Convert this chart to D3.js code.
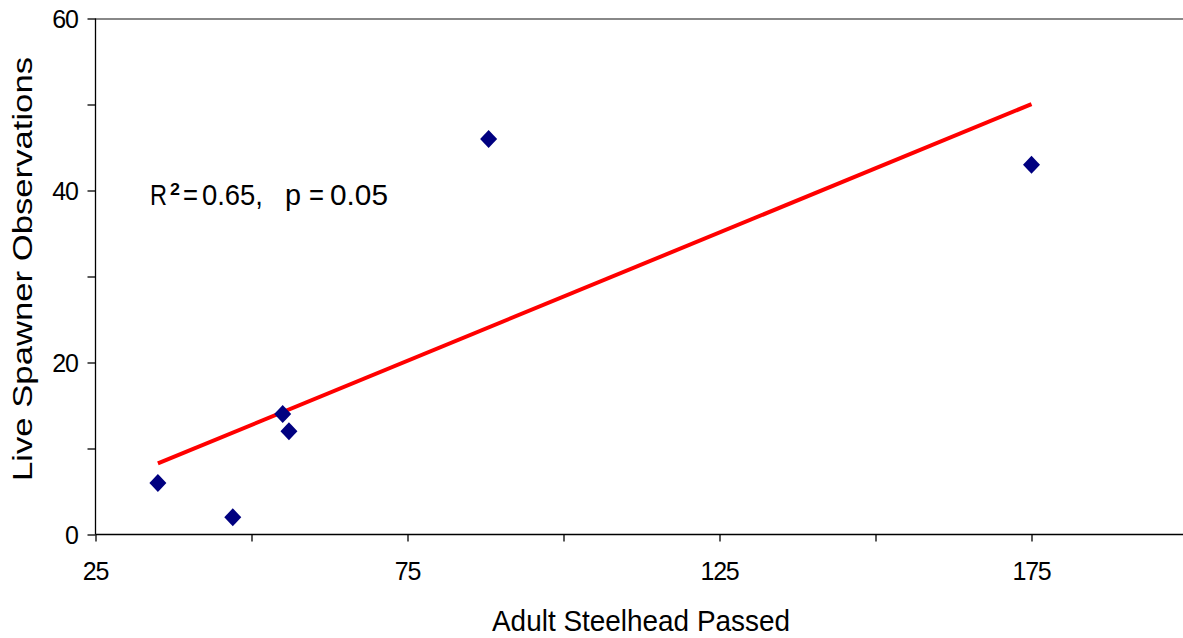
<!DOCTYPE html>
<html>
<head>
<meta charset="utf-8">
<script src="https://cdn.jsdelivr.net/npm/d3@7"></script>
<style>
body { margin: 0; background: #fff; }
text { font-family: "Liberation Sans", Arial, sans-serif; fill: #000; }
</style>
</head>
<body>
<script>
const adultsPassed = [35, 47, 55, 56, 88, 175];
const liveSpawners = [6, 2, 14, 12, 46, 43];
const xMajorTicks = [25, 75, 125, 175];
const yMajorTicks = [0, 20, 40, 60];

const W = 1183, H = 638;
const svg = d3.select("body").append("svg").attr("width", W).attr("height", H);

const x = d3.scaleLinear().domain([25, 200]).range([95.5, 1187.5]);
const y = d3.scaleLinear().domain([0, 60]).range([534.5, 18.5]);

// top border
svg.append("line").attr("x1", 95).attr("x2", W).attr("y1", 19).attr("y2", 19)
  .attr("stroke", "#888").attr("stroke-width", 2);

// y axis with minor ticks
const yAxis = svg.append("g").attr("transform", "translate(95.5,0)")
  .call(d3.axisLeft(y).tickValues(d3.range(0, 61, 10)).tickSize(8).tickFormat(""));
yAxis.selectAll("line, path").attr("stroke", "#000").attr("stroke-width", 1.3);
yAxis.select("path").attr("d", `M0,${y(60)}V${y(0)}`);
svg.selectAll(".ylab").data(yMajorTicks).enter().append("text")
  .attr("x", 78).attr("y", d => y(d) + 9).attr("text-anchor", "end")
  .attr("font-size", 25).attr("letter-spacing", -1).text(d => d);

// x axis with minor ticks
const xAxis = svg.append("g").attr("transform", "translate(0,534.5)")
  .call(d3.axisBottom(x).tickValues(d3.range(25, 176, 25)).tickSize(7).tickFormat(""));
xAxis.selectAll("line, path").attr("stroke", "#000").attr("stroke-width", 1.3);
xAxis.select("path").attr("d", `M${x(25)},0H${W}`);
svg.selectAll(".xlab").data(xMajorTicks).enter().append("text")
  .attr("x", d => x(d)).attr("y", 580).attr("text-anchor", "middle")
  .attr("font-size", 25).attr("letter-spacing", -1.2).text(d => d);

// axis titles
svg.append("text").attr("transform", "translate(32,269) rotate(-90)")
  .attr("text-anchor", "middle").attr("font-size", 27)
  .attr("textLength", 424).attr("lengthAdjust", "spacingAndGlyphs")
  .text("Live Spawner Observations");
svg.append("text").attr("x", 641).attr("y", 631).attr("text-anchor", "middle")
  .attr("font-size", 30).attr("textLength", 298).attr("lengthAdjust", "spacingAndGlyphs")
  .text("Adult Steelhead Passed");

// least-squares trend line
const mx = d3.mean(adultsPassed), my = d3.mean(liveSpawners);
const sxy = d3.sum(adultsPassed, (v, i) => (v - mx) * (liveSpawners[i] - my));
const sxx = d3.sum(adultsPassed, v => (v - mx) ** 2);
const slope = sxy / sxx, icpt = my - slope * mx;
const ext = d3.extent(adultsPassed);
svg.append("line")
  .attr("x1", x(ext[0])).attr("y1", y(icpt + slope * ext[0]))
  .attr("x2", x(ext[1])).attr("y2", y(icpt + slope * ext[1]))
  .attr("stroke", "#ff0000").attr("stroke-width", 4);

// points
svg.selectAll(".pt").data(adultsPassed).enter().append("path")
  .attr("d", "M0,-9L8.5,0L0,9L-8.5,0Z")
  .attr("transform", (d, i) => `translate(${x(d)},${y(liveSpawners[i])})`)
  .attr("fill", "#000080");

// annotation
const ann = svg.append("g");
const parts = [
  { t: "R", x: 150, w: 17, dy: 0, fs: 30 },
  { t: "2", x: 170, w: 10, dy: -10, fs: 17, bold: true },
  { t: "=", x: 183, w: 15, dy: 0, fs: 30 },
  { t: "0.65,", x: 202, w: 61, dy: 0, fs: 30 },
  { t: "p", x: 285, w: 16, dy: 0, fs: 30 },
  { t: "=", x: 309, w: 15, dy: 0, fs: 30 },
  { t: "0.05", x: 330, w: 58, dy: 0, fs: 30 }
];
ann.selectAll("text").data(parts).enter().append("text")
  .attr("x", d => d.x).attr("y", d => 205 + d.dy)
  .attr("font-size", d => d.fs).attr("font-weight", d => d.bold ? "bold" : null)
  .attr("textLength", d => d.w).attr("lengthAdjust", "spacingAndGlyphs")
  .text(d => d.t);
</script>
</body>
</html>
